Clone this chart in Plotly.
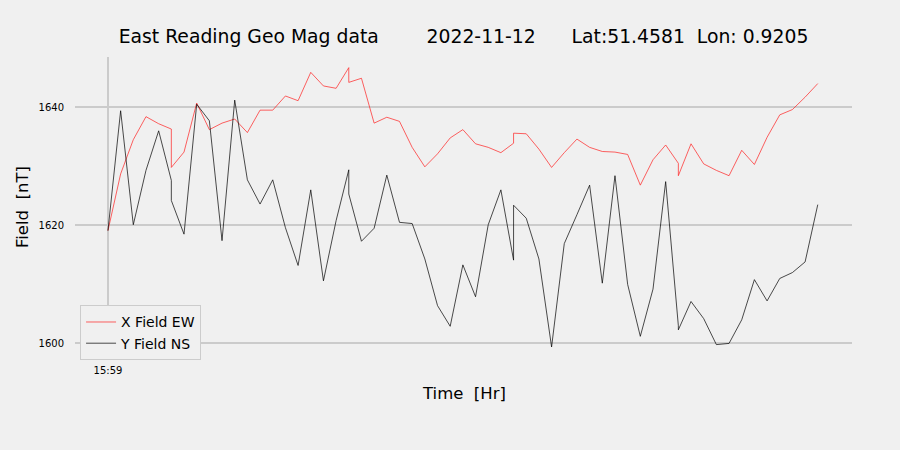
import plotly.graph_objects as go

# Time labels (categorical, one per minute; duplicates where two samples share a minute)
times = ["15:59", "16:00", "16:01", "16:02", "16:03", "16:04", "16:04", "16:05", "16:06", "16:07",
         "16:08", "16:09", "16:10", "16:11", "16:12", "16:13", "16:14", "16:15", "16:16", "16:17",
         "16:18", "16:18", "16:19", "16:20", "16:21", "16:22", "16:23", "16:24", "16:25", "16:26",
         "16:27", "16:28", "16:29", "16:30", "16:31", "16:31", "16:32", "16:33", "16:34", "16:35",
         "16:36", "16:37", "16:38", "16:39", "16:40", "16:41", "16:42", "16:43", "16:44", "16:44",
         "16:45", "16:46", "16:47", "16:48", "16:49", "16:50", "16:51", "16:52", "16:53", "16:54",
         "16:55"]

x_field_ew = [1619.1, 1628.7, 1634.5, 1638.4, 1637.2, 1636.3, 1629.8, 1632.4, 1640.7, 1636.2,
              1637.3, 1638.0, 1635.7, 1639.5, 1639.5, 1641.9, 1641.1, 1645.9, 1643.6, 1643.2,
              1646.7, 1644.2, 1644.9, 1637.3, 1638.3, 1637.6, 1633.2, 1629.9, 1632.1, 1634.8,
              1636.2, 1633.8, 1633.2, 1632.3, 1633.9, 1635.6, 1635.5, 1632.9, 1629.8, 1632.3,
              1634.6, 1633.2, 1632.5, 1632.4, 1632.0, 1626.8, 1631.1, 1633.6, 1630.5, 1628.4,
              1633.8, 1630.4, 1629.3, 1628.4, 1632.7, 1630.3, 1634.9, 1638.7, 1639.6, 1641.7,
              1644.0]

y_field_ns = [1619.1, 1639.4, 1620.1, 1629.3, 1636.0, 1627.6, 1624.2, 1618.5, 1640.5, 1637.7,
              1617.4, 1641.2, 1627.7, 1623.6, 1627.7, 1619.6, 1613.2, 1626.0, 1610.6, 1620.8,
              1629.4, 1625.3, 1617.3, 1619.5, 1628.5, 1620.5, 1620.3, 1614.3, 1606.4, 1602.9,
              1613.3, 1607.9, 1620.1, 1626.0, 1614.1, 1623.4, 1621.2, 1614.3, 1599.4, 1616.9,
              1621.8, 1626.8, 1610.2, 1628.4, 1610.0, 1601.2, 1609.2, 1627.4, 1603.0, 1602.3,
              1607.1, 1604.2, 1599.8, 1600.0, 1604.0, 1610.8, 1607.2, 1611.0, 1612.0, 1613.8,
              1623.5]

y_ticks = [1600, 1620, 1640]
x_ticks = ["15:59"]

title_text = ("East Reading Geo Mag data" + "\u00a0" * 8 + "2022-11-12" + "\u00a0" * 6 +
              "Lat:51.4581" + "\u00a0" * 2 + "Lon: 0.9205")

FONT = "DejaVu Sans"
BG = "#f0f0f0"
GRID = "#cbcbcb"

fig = go.Figure()
fig.add_trace(go.Scatter(x=times, y=x_field_ew, mode="lines", name="X Field EW",
                         line=dict(color="#ff2020", width=0.7)))
fig.add_trace(go.Scatter(x=times, y=y_field_ns, mode="lines", name="Y Field NS",
                         line=dict(color="#000000", width=0.7)))

L, R, T, B = 75, 48, 57, 93
fig.update_layout(
    width=900, height=450,
    margin=dict(l=L, r=R, t=T, b=B, pad=0),
    paper_bgcolor=BG, plot_bgcolor=BG,
    font=dict(family=FONT, color="#000000"),
    title=dict(text=title_text, x=0.5, xref="paper", xanchor="center",
               y=1 - 36 / 450, yref="container", yanchor="middle",
               font=dict(family=FONT, size=18.8, color="#000000")),
    showlegend=True,
    legend=dict(x=0.0065, y=0.172, xanchor="left", yanchor="top",
                bgcolor=BG, bordercolor="#cccccc", borderwidth=1,
                font=dict(family=FONT, size=14, color="#000000"),
                tracegroupgap=0),
    xaxis=dict(type="category", categoryorder="array", categoryarray=list(dict.fromkeys(times)),
               range=[-2.6, 58.7], tickmode="array", tickvals=x_ticks, ticktext=x_ticks,
               showgrid=True, gridcolor=GRID, gridwidth=1.5, zeroline=False, showline=False,
               ticks="", ticklabelstandoff=6,
               tickfont=dict(family=FONT, size=10, color="#000000")),
    yaxis=dict(range=[1597.7, 1648.5], tickmode="array", tickvals=y_ticks,
               showgrid=True, gridcolor=GRID, gridwidth=1.5, zeroline=False, showline=False,
               ticks="", ticklabelstandoff=10,
               tickfont=dict(family=FONT, size=10, color="#000000")),
    annotations=[
        dict(text="Field\u00a0\u00a0[nT]", xref="paper", yref="paper", x=0, y=0.5,
             xanchor="center", yanchor="middle", xshift=22 - L, textangle=-90, showarrow=False,
             font=dict(family=FONT, size=16.5, color="#000000")),
        dict(text="Time\u00a0\u00a0[Hr]", xref="paper", yref="paper", x=0.5, y=0,
             xanchor="center", yanchor="middle", yshift=-(393 - (450 - B)), showarrow=False,
             font=dict(family=FONT, size=16.5, color="#000000")),
    ],
)

fig.write_html(
    "out.html",
    config={"displayModeBar": False},
    post_script="document.body.style.margin='0';document.body.style.background='#f0f0f0';",
)
